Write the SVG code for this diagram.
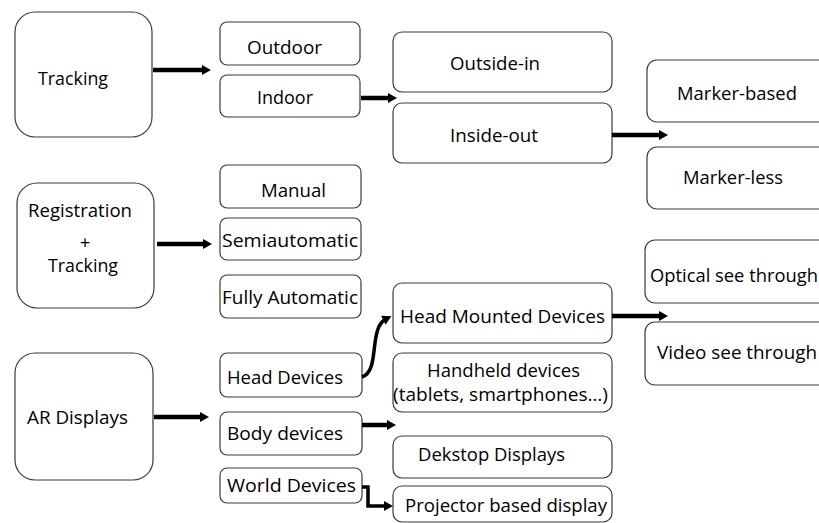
<svg xmlns="http://www.w3.org/2000/svg" width="819" height="523" viewBox="0 0 819 523">
<style>
.b{fill:#fff;stroke:#3a3a3a;stroke-width:1.2}
.t{font-family:"Open Sans","Liberation Sans",sans-serif;font-size:18.5px;fill:#000;text-anchor:middle}
.a{fill:none;stroke:#000;stroke-width:4.5}
.c{fill:none;stroke:#000;stroke-width:3.5}
</style>
<defs>
<marker id="ah" markerUnits="userSpaceOnUse" markerWidth="10" markerHeight="11" refX="3" refY="5" orient="auto" overflow="visible">
<path d="M0,0 L9,5 L0,10 z" fill="#000"/>
</marker>
</defs>
<rect width="819" height="523" fill="#fff"/>

<g id="tracking"><rect class="b" x="15" y="12" width="137" height="125" rx="20"/><text class="t" x="73" y="85" textLength="70" lengthAdjust="spacingAndGlyphs">Tracking</text></g>
<g id="outdoor"><rect class="b" x="220" y="22" width="140" height="43" rx="7"/><text class="t" x="284.5" y="54" textLength="75" lengthAdjust="spacingAndGlyphs">Outdoor</text></g>
<g id="indoor"><rect class="b" x="220" y="75" width="140" height="42" rx="7"/><text class="t" x="285" y="104" textLength="56" lengthAdjust="spacingAndGlyphs">Indoor</text></g>
<g id="outside-in"><rect class="b" x="393" y="32" width="219" height="60" rx="9"/><text class="t" x="495" y="70" textLength="90" lengthAdjust="spacingAndGlyphs">Outside-in</text></g>
<g id="inside-out"><rect class="b" x="393" y="103" width="219" height="60" rx="9"/><text class="t" x="494" y="142" textLength="88" lengthAdjust="spacingAndGlyphs">Inside-out</text></g>
<g id="marker-based"><rect class="b" x="647" y="60" width="200" height="62" rx="10"/><text class="t" x="737" y="100" textLength="120" lengthAdjust="spacingAndGlyphs">Marker-based</text></g>
<g id="marker-less"><rect class="b" x="647" y="147" width="200" height="62" rx="10"/><text class="t" x="733" y="184" textLength="100" lengthAdjust="spacingAndGlyphs">Marker-less</text></g>

<g id="registration"><rect class="b" x="17" y="183" width="137" height="125" rx="20"/><text class="t" x="80" y="217" textLength="104" lengthAdjust="spacingAndGlyphs">Registration</text><text class="t" x="85" y="249">+</text><text class="t" x="83" y="272" textLength="70" lengthAdjust="spacingAndGlyphs">Tracking</text></g>
<g id="manual"><rect class="b" x="220" y="165" width="141" height="43" rx="7"/><text class="t" x="293.5" y="197" textLength="65" lengthAdjust="spacingAndGlyphs">Manual</text></g>
<g id="semiautomatic"><rect class="b" x="220" y="218" width="141" height="42" rx="7"/><text class="t" x="290" y="247" textLength="136" lengthAdjust="spacingAndGlyphs">Semiautomatic</text></g>
<g id="fully-automatic"><rect class="b" x="220" y="275" width="141" height="43" rx="7"/><text class="t" x="290" y="304" textLength="136" lengthAdjust="spacingAndGlyphs">Fully Automatic</text></g>

<g id="hmd"><rect class="b" x="393" y="283" width="219" height="60" rx="9"/><text class="t" x="502.5" y="323" textLength="205" lengthAdjust="spacingAndGlyphs">Head Mounted Devices</text></g>
<g id="handheld"><rect class="b" x="393" y="353" width="219" height="59" rx="9"/><text class="t" x="503.5" y="377" textLength="153" lengthAdjust="spacingAndGlyphs">Handheld devices</text><text class="t" x="500.5" y="401" textLength="215" lengthAdjust="spacingAndGlyphs">(tablets, smartphones…)</text></g>
<g id="optical"><rect class="b" x="645" y="240" width="200" height="63" rx="10"/><text class="t" x="734" y="282" textLength="168" lengthAdjust="spacingAndGlyphs">Optical see through</text></g>
<g id="video"><rect class="b" x="645" y="322" width="200" height="63" rx="10"/><text class="t" x="737" y="359" textLength="160" lengthAdjust="spacingAndGlyphs">Video see through</text></g>

<g id="ar-displays"><rect class="b" x="15" y="353" width="138" height="127" rx="20"/><text class="t" x="77.5" y="424" textLength="101" lengthAdjust="spacingAndGlyphs">AR Displays</text></g>
<g id="head-devices"><rect class="b" x="220" y="353" width="142" height="44" rx="7"/><text class="t" x="285" y="384" textLength="116" lengthAdjust="spacingAndGlyphs">Head Devices</text></g>
<g id="body-devices"><rect class="b" x="220" y="412" width="142" height="43" rx="7"/><text class="t" x="285" y="440" textLength="116" lengthAdjust="spacingAndGlyphs">Body devices</text></g>
<g id="world-devices"><rect class="b" x="220" y="468" width="142" height="35" rx="7"/><text class="t" x="291.5" y="492" textLength="129" lengthAdjust="spacingAndGlyphs">World Devices</text></g>
<g id="desktop"><rect class="b" x="393" y="436" width="219" height="42" rx="9"/><text class="t" x="491.5" y="461" textLength="147" lengthAdjust="spacingAndGlyphs">Dekstop Displays</text></g>
<g id="projector"><rect class="b" x="393" y="486" width="219" height="36" rx="9"/><text class="t" x="506" y="512" textLength="202" lengthAdjust="spacingAndGlyphs">Projector based display</text></g>

<g id="connectors">
<path class="a" d="M153,70 H205" marker-end="url(#ah)"/>
<path class="a" d="M361,98 H391" marker-end="url(#ah)"/>
<path class="a" d="M612,135 H662" marker-end="url(#ah)"/>
<path class="a" d="M157,244 H206" marker-end="url(#ah)"/>
<path class="a" d="M154,417 H203" marker-end="url(#ah)"/>
<path class="a" d="M612,316 H662" marker-end="url(#ah)"/>
<path class="a" d="M362,425 H390" marker-end="url(#ah)"/>
<path class="c" d="M362,487 H368 V506 H387" marker-end="url(#ah)"/>
<path class="c" d="M362,377 C373,373 373,358 375,343 C377,328 380,322 386,319" marker-end="url(#ah)"/>
</g>
</svg>
